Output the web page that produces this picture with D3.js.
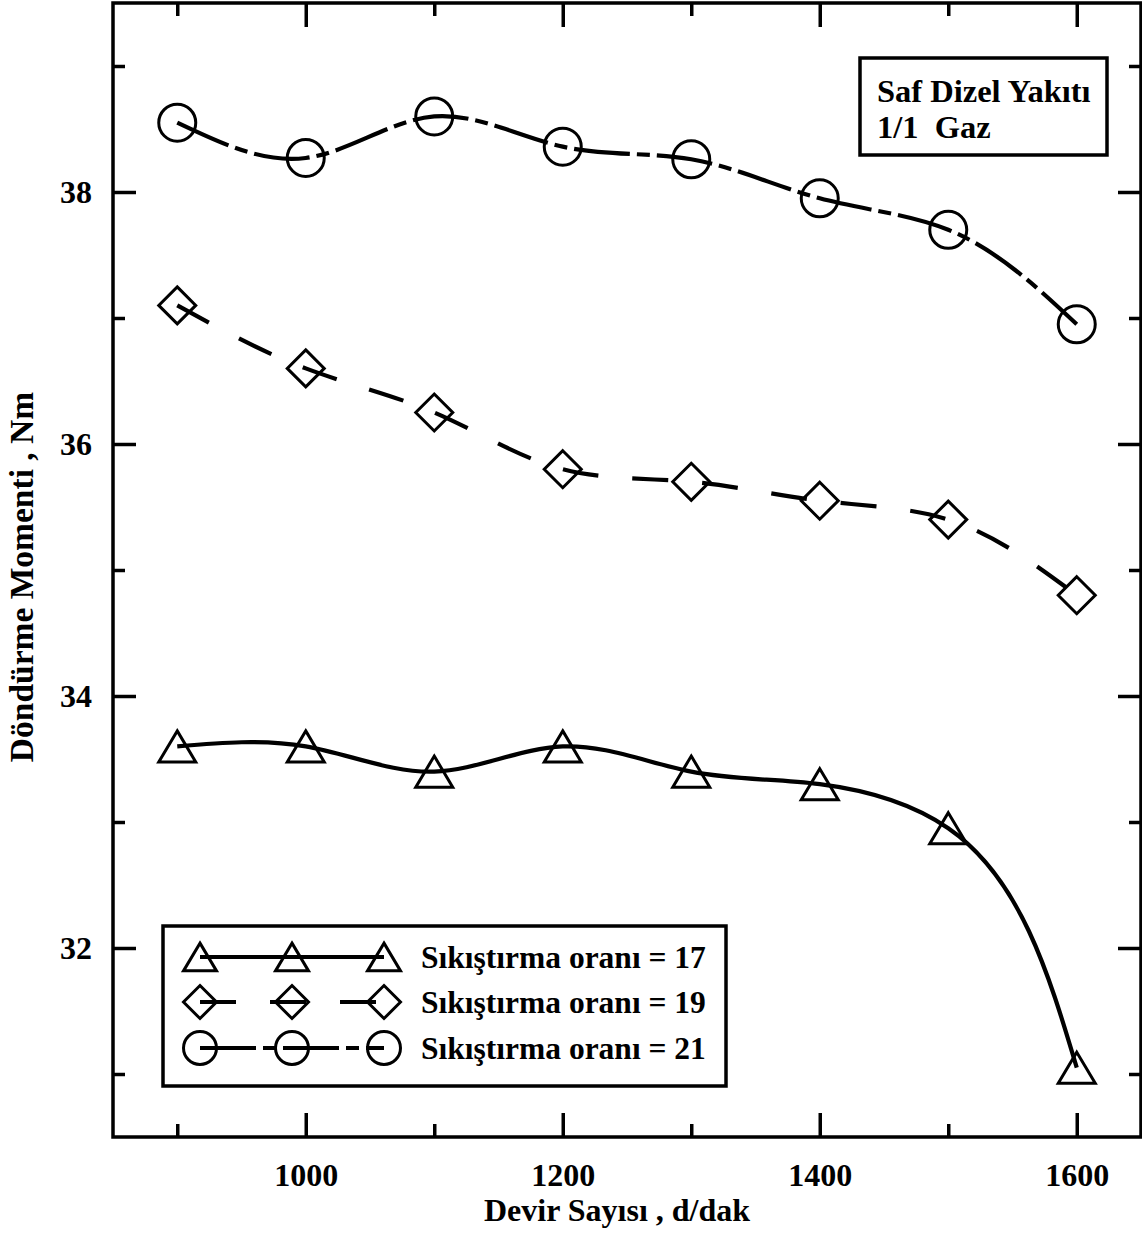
<!DOCTYPE html>
<html>
<head>
<meta charset="utf-8">
<script src="https://cdn.jsdelivr.net/npm/d3@7"></script>
<style>
  html, body { margin: 0; padding: 0; background: #fff; }
  svg text { font-family: "Liberation Serif", "Times New Roman", serif; font-weight: bold; fill: #000; }
</style>
</head>
<body>
<svg id="chart" width="1142" height="1234"></svg>
<script>
// ---- data ----
const rpm = [900, 1000, 1100, 1200, 1300, 1400, 1500, 1600];
const cr17 = [33.6, 33.6, 33.4, 33.6, 33.4, 33.3, 32.95, 31.05];
const cr19 = [37.1, 36.6, 36.25, 35.8, 35.7, 35.55, 35.4, 34.8];
const cr21 = [38.55, 38.27, 38.6, 38.36, 38.26, 37.95, 37.7, 36.95];
const seriesNames = ["Sıkıştırma oranı = 17", "Sıkıştırma oranı = 19", "Sıkıştırma oranı = 21"];
const xMajorTicks = [1000, 1200, 1400, 1600];
const xMinorTicks = [900, 1100, 1300, 1500];
const yMajorTicks = [32, 34, 36, 38];
const yMinorTicks = [31, 33, 35, 37, 39];
const xTitle = "Devir Sayısı , d/dak";
const yTitle = "Döndürme Momenti , Nm";
const noteLines = ["Saf Dizel Yakıtı", "1/1  Gaz"];

// ---- custom d3 curve: chord-length parameterised natural cubic spline ----
function naturalSecond(t, v) {
  const n = v.length - 1;
  const M = new Array(n + 1).fill(0);
  if (n < 2) return M;
  const a = [], b = [], c = [], r = [];
  for (let i = 1; i < n; i++) {
    const h0 = t[i] - t[i - 1], h1 = t[i + 1] - t[i];
    a.push(h0); b.push(2 * (h0 + h1)); c.push(h1);
    r.push(6 * ((v[i + 1] - v[i]) / h1 - (v[i] - v[i - 1]) / h0));
  }
  const m = a.length;
  for (let i = 1; i < m; i++) {
    const w = a[i] / b[i - 1];
    b[i] -= w * c[i - 1];
    r[i] -= w * r[i - 1];
  }
  const sol = new Array(m);
  sol[m - 1] = r[m - 1] / b[m - 1];
  for (let i = m - 2; i >= 0; i--) sol[i] = (r[i] - c[i] * sol[i + 1]) / b[i];
  for (let i = 0; i < m; i++) M[i + 1] = sol[i];
  return M;
}
function ChordSpline(context) { this._context = context; }
ChordSpline.prototype = {
  areaStart() { this._line = 0; },
  areaEnd() { this._line = NaN; },
  lineStart() { this._x = []; this._y = []; },
  point(x, y) { this._x.push(+x); this._y.push(+y); },
  lineEnd() {
    const X = this._x, Y = this._y, n = X.length;
    if (!n) return;
    const ctx = this._context;
    ctx.moveTo(X[0], Y[0]);
    if (n === 2) { ctx.lineTo(X[1], Y[1]); return; }
    const t = [0];
    for (let i = 1; i < n; i++) t.push(t[i - 1] + Math.hypot(X[i] - X[i - 1], Y[i] - Y[i - 1]));
    const MX = naturalSecond(t, X), MY = naturalSecond(t, Y);
    for (let i = 0; i < n - 1; i++) {
      const h = t[i + 1] - t[i];
      const dx0 = (X[i + 1] - X[i]) / h - h * (2 * MX[i] + MX[i + 1]) / 6;
      const dy0 = (Y[i + 1] - Y[i]) / h - h * (2 * MY[i] + MY[i + 1]) / 6;
      const dx1 = (X[i + 1] - X[i]) / h + h * (MX[i] + 2 * MX[i + 1]) / 6;
      const dy1 = (Y[i + 1] - Y[i]) / h + h * (MY[i] + 2 * MY[i + 1]) / 6;
      ctx.bezierCurveTo(X[i] + h * dx0 / 3, Y[i] + h * dy0 / 3,
                        X[i + 1] - h * dx1 / 3, Y[i + 1] - h * dy1 / 3,
                        X[i + 1], Y[i + 1]);
    }
  }
};
const curveChordSpline = ctx => new ChordSpline(ctx);

// ---- layout ----
const svg = d3.select("#chart");
const L = 113, R = 1141, T = 3, B = 1137;
const x = d3.scaleLinear().domain([850, 1650]).range([L, R]);
const y = d3.scaleLinear().domain([30.5, 39.5]).range([B, T]);

const styles = [
  { marker: "triangle", dash: null },
  { marker: "diamond", dash: "36,34" },
  { marker: "circle", dash: "56,7,13,7" }
];
const seriesData = [cr17, cr19, cr21];

function markerPath(type, s) {
  const h = s / 2;
  if (type === "triangle") {
    const hh = s * 0.84 / 2;
    return `M0,${-hh}L${h},${hh}L${-h},${hh}Z`;
  } else if (type === "diamond") {
    return `M0,${-h}L${h},0L0,${h}L${-h},0Z`;
  } else {
    return `M${h},0A${h},${h} 0 1,1 ${-h},0A${h},${h} 0 1,1 ${h},0Z`;
  }
}

// ---- axes (inward ticks on all four sides) ----
svg.append("g").attr("transform", `translate(0,${B})`)
  .call(d3.axisBottom(x).tickValues(xMajorTicks).tickSize(-24).tickPadding(26).tickFormat(d3.format("d")));
svg.append("g").attr("transform", `translate(0,${B})`)
  .call(d3.axisBottom(x).tickValues(xMinorTicks).tickSize(-13).tickFormat(""));
svg.append("g").attr("transform", `translate(0,${T})`)
  .call(d3.axisTop(x).tickValues(xMajorTicks).tickSize(-24).tickFormat(""));
svg.append("g").attr("transform", `translate(0,${T})`)
  .call(d3.axisTop(x).tickValues(xMinorTicks).tickSize(-13).tickFormat(""));
svg.append("g").attr("transform", `translate(${L},0)`)
  .call(d3.axisLeft(y).tickValues(yMajorTicks).tickSize(-23).tickPadding(21).tickFormat(d3.format("d")));
svg.append("g").attr("transform", `translate(${L},0)`)
  .call(d3.axisLeft(y).tickValues(yMinorTicks).tickSize(-12).tickFormat(""));
svg.append("g").attr("transform", `translate(${R},0)`)
  .call(d3.axisRight(y).tickValues(yMajorTicks).tickSize(-23).tickFormat(""));
svg.append("g").attr("transform", `translate(${R},0)`)
  .call(d3.axisRight(y).tickValues(yMinorTicks).tickSize(-12).tickFormat(""));

svg.selectAll(".domain").remove();
svg.selectAll(".tick line").attr("stroke", "#000").attr("stroke-width", 3.5);
svg.selectAll(".tick text").attr("font-size", 32).attr("fill", "#000")
  .style("font-family", "'Liberation Serif', serif").style("font-weight", "bold");

// frame
svg.append("rect").attr("x", L).attr("y", T).attr("width", R - L).attr("height", B - T)
  .attr("fill", "none").attr("stroke", "#000").attr("stroke-width", 3.5);

// titles
svg.append("text").attr("x", 617).attr("y", 1221).attr("text-anchor", "middle")
  .attr("font-size", 32).text(xTitle);
svg.append("text").attr("transform", "translate(33,577) rotate(-90)").attr("text-anchor", "middle")
  .attr("font-size", 33.5).text(yTitle);

// ---- series ----
const line = d3.line().x((d, i) => x(rpm[i])).y(d => y(d)).curve(curveChordSpline);
seriesData.forEach((vals, si) => {
  const st = styles[si];
  svg.append("path").attr("d", line(vals)).attr("fill", "none")
    .attr("stroke", "#000").attr("stroke-width", 4.2)
    .attr("stroke-dasharray", st.dash);
  svg.append("g").selectAll("path").data(vals).join("path")
    .attr("transform", (d, i) => `translate(${x(rpm[i])},${y(d)})`)
    .attr("d", markerPath(st.marker, 37))
    .attr("fill", "none").attr("stroke", "#000").attr("stroke-width", 3);
});

// ---- legend ----
const lg = svg.append("g");
lg.append("rect").attr("x", 163).attr("y", 926).attr("width", 563).attr("height", 160)
  .attr("fill", "#fff").attr("stroke", "#000").attr("stroke-width", 3.5);
const legRows = [957, 1002, 1048];
const legX = [200, 292, 384];
seriesNames.forEach((name, si) => {
  const st = styles[si];
  const yy = legRows[si];
  lg.append("line").attr("x1", legX[0]).attr("x2", legX[2]).attr("y1", yy).attr("y2", yy)
    .attr("stroke", "#000").attr("stroke-width", 4.2).attr("stroke-dasharray", st.dash);
  legX.forEach(xx => {
    lg.append("path").attr("transform", `translate(${xx},${yy})`)
      .attr("d", markerPath(st.marker, 33))
      .attr("fill", "none").attr("stroke", "#000").attr("stroke-width", 3);
  });
  lg.append("text").attr("x", 421).attr("y", yy + 11).attr("font-size", 31.5).text(name);
});

// ---- annotation box ----
svg.append("rect").attr("x", 860).attr("y", 58).attr("width", 247).attr("height", 97)
  .attr("fill", "#fff").attr("stroke", "#000").attr("stroke-width", 3.5);
noteLines.forEach((t, i) => {
  svg.append("text").attr("x", 877).attr("y", 102 + i * 36).attr("font-size", 32.5)
    .attr("xml:space", "preserve").style("white-space", "pre").text(t);
});
</script>
</body>
</html>
